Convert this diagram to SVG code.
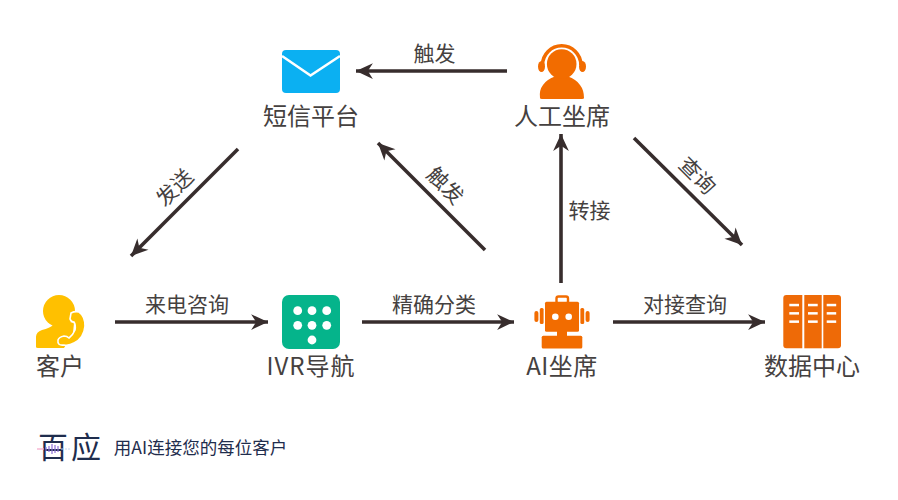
<svg xmlns="http://www.w3.org/2000/svg" width="898" height="500" viewBox="0 0 898 500">
<style>
text{font-family:"Noto Sans CJK SC","Noto Sans",sans-serif;fill:#454140;text-anchor:middle}
.n{font-size:24px}
.e{font-size:21px}
.c{stroke:#372d2d;stroke-width:3.6;fill:none;marker-end:url(#a)}
.w{fill:#fff}
.o{fill:#f26c00}
</style>
<defs>
<marker id="a" markerUnits="userSpaceOnUse" markerWidth="20" markerHeight="18" refX="15" refY="8" orient="auto" viewBox="0 0 16 16">
<path d="M15 8L0 1L4.500 8L0 15Z" fill="#372d2d"/>
</marker>
</defs>
<rect width="898" height="500" fill="#fff"/>
<g id="connectors">
<path class="c" d="M507 71H356"/>
<path class="c" d="M238 149L131 256"/>
<path class="c" d="M485 250L378 143"/>
<path class="c" d="M561 283V134"/>
<path class="c" d="M634 138L742 245"/>
<path class="c" d="M115 322H268"/>
<path class="c" d="M362 322H514"/>
<path class="c" d="M613 322H765"/>
<text class="e" x="434.500" y="61">触发</text>
<text class="e" transform="translate(175 188) rotate(-45)" y="7">发送</text>
<text class="e" transform="translate(445 186) rotate(45)" y="7">触发</text>
<text class="e" x="589.500" y="218">转接</text>
<text class="e" transform="translate(697 176) rotate(45)" y="7">查询</text>
<text class="e" x="187" y="312">来电咨询</text>
<text class="e" x="434" y="312">精确分类</text>
<text class="e" x="685" y="312">对接查询</text>
</g>
<g id="sms">
<rect x="282" y="50" width="58" height="43" rx="4" fill="#0bb0f2"/>
<path d="M282 56L310.500 75.500L340 56" fill="none" stroke="#fff" stroke-width="2.600"/>
<text class="n" x="311" y="125">短信平台</text>
</g>
<g id="agent">
<path class="o" d="M540 98q-1-8 3-13q4-6 12-8.500a16 16 0 0 0 13 0q8 2.500 12 8.500q4 5 4 13q0 1-2 1h-40q-2 0-2-1Z"/>
<circle class="o" cx="561.700" cy="64" r="14.800"/>
<path d="M542.500 65a19.200 19.200 0 0 1 38.400 0" fill="none" stroke="#f26c00" stroke-width="3.600"/>
<ellipse class="o" cx="541.500" cy="66.500" rx="3.500" ry="5.500"/>
<ellipse class="o" cx="582.500" cy="66.500" rx="3.500" ry="5.500"/>
<text class="n" x="562" y="125">人工坐席</text>
</g>
<g id="customer">
<circle cx="59" cy="311" r="16" fill="#ffc000"/>
<path fill="#ffc000" d="M36 347V337q0-5 6-7q8-2 11-5q2-2 1-4h12l8 2l-1 10l-9 15h-26q-2 0-2-1Z"/>
<path d="M64 345q-7 1-6-5q1-3 6-4q3 0 5 2q4-3 6-8q1-5-1-8q-3 0-4-3l1-6q4-2 8-1q6 4 6 14q-1 12-11 17q-5 3-10 2Z" fill="#ffc000" stroke="#fff" stroke-width="1.600"/>
<text class="n" x="60" y="375">客户</text>
</g>
<g id="ivr">
<rect x="282" y="295" width="58" height="54" rx="7" fill="#05b48b"/>
<g class="w">
<circle cx="297.700" cy="310.700" r="4.400"/><circle cx="312" cy="310.700" r="4.400"/><circle cx="326.700" cy="310.700" r="4.400"/>
<circle cx="297.700" cy="325.300" r="4.400"/><circle cx="312" cy="325.300" r="4.400"/><circle cx="326.700" cy="325.300" r="4.400"/>
<circle cx="312" cy="340" r="4.400"/>
</g>
<text class="n" x="311" y="375" style="letter-spacing:1px">IVR导航</text>
</g>
<g id="ai">
<rect x="556.500" y="296.500" width="11.500" height="7" rx="2" fill="none" stroke="#f26c00" stroke-width="2.400"/>
<rect class="o" x="545" y="301.700" width="34" height="30" rx="1.500"/>
<rect class="o" x="557" y="331" width="10" height="5"/>
<rect class="o" x="541.700" y="335.700" width="40.600" height="12.800" rx="1.500"/>
<rect class="o" x="534.400" y="311" width="4" height="11" rx="2"/>
<rect class="o" x="539.800" y="308" width="3.800" height="16" rx="1.500"/>
<rect class="o" x="580.400" y="308" width="3.800" height="16" rx="1.500"/>
<rect class="o" x="585.600" y="311" width="4" height="11" rx="2"/>
<circle class="w" cx="555.300" cy="316.700" r="3.300"/>
<circle class="w" cx="568.700" cy="316.700" r="3.300"/>
<text class="n" x="562" y="375" style="letter-spacing:.5px">AI坐席</text>
</g>
<g id="data">
<path fill="#ee6a07" d="M786.300 295h16v53.300h-16a3 3 0 0 1-3-3v-47.300a3 3 0 0 1 3-3Z"/>
<rect x="804.300" y="295" width="17.400" height="53.300" fill="#ee6a07"/>
<path fill="#ee6a07" d="M823.300 295h14.700a3 3 0 0 1 3 3v47.300a3 3 0 0 1-3 3h-14.700Z"/>
<g class="w">
<rect x="789.300" y="303.800" width="9.700" height="2.500"/><rect x="808" y="303.800" width="9.700" height="2.500"/><rect x="826.700" y="303.800" width="9.500" height="2.500"/>
<rect x="789.300" y="312.100" width="9.700" height="2.500"/><rect x="808" y="312.100" width="9.700" height="2.500"/><rect x="826.700" y="312.100" width="9.500" height="2.500"/>
<rect x="789.300" y="320.400" width="9.700" height="2.500"/><rect x="808" y="320.400" width="9.700" height="2.500"/><rect x="826.700" y="320.400" width="9.500" height="2.500"/>
</g>
<text class="n" x="812" y="375">数据中心</text>
</g>
<g id="footer">
<text x="71" y="458" style="font-size:30px;fill:#1f2d4d;letter-spacing:3px">百应</text>
<path d="M37 449H44" stroke="#f6a6c8" stroke-width="1.200"/>
<path d="M46 447v4M49 446v6M52 444v10M55 445v8M58 446v6" stroke="#8d6fd8" stroke-width="1.200"/>
<path d="M62 448v2M66 448.500v1M69 448.500v1" stroke="#9db8e8" stroke-width="1.200"/>
<text x="200.500" y="454" style="font-size:17.500px;fill:#1f2d4d">用AI连接您的每位客户</text>
</g>
</svg>
